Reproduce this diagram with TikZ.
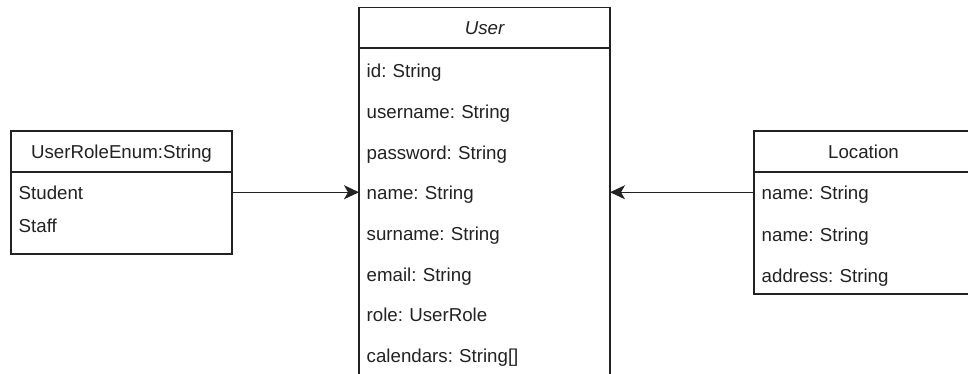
\documentclass[tikz,border=0pt]{standalone}
\usepackage{fontspec}
\setmainfont{Liberation Sans}
\usetikzlibrary{arrows.meta}
\definecolor{ink}{HTML}{222222}
\frenchspacing
\begin{document}
\begin{tikzpicture}[x=1pt,y=-1pt,
  font=\fontsize{18.7}{22}\selectfont,
  classbox/.style={draw=ink, line width=1.2pt, fill=white, inner sep=0pt, outer sep=0pt, anchor=north west},
  attr/.style={anchor=west, inner xsep=7.5pt, inner ysep=0pt, text height=13.5pt, text depth=0pt,
               text=ink, align=left, text width=#1},
  title/.style={anchor=base, inner sep=0pt, text=ink},
  divider/.style={draw=ink, line width=1.2pt},
  link/.style={draw=ink, line width=1.4pt, -{Stealth[length=15pt,width=14pt,inset=4pt]}}]
\useasboundingbox (0,0) rectangle (968,374);

% class User (continues past the lower edge)
\node[classbox, minimum width=251pt, minimum height=377.5pt] (user) at (359,7.5) {};
\draw[divider] ([yshift=-40.5pt]user.north west) -- ([yshift=-40.5pt]user.north east);
\node[title] (usertitle) at (484.5,35) {\itshape User};
\node[attr=236pt] (uid)   at (359,71.25)  {id: String};
\node[attr=236pt] (uuser) at (359,111.85) {username: String};
\node[attr=236pt] (upass) at (359,152.45) {password: String};
\node[attr=236pt] (uname) at (359,193.05) {name: String};
\node[attr=236pt] (usur)  at (359,233.65) {surname: String};
\node[attr=236pt] (umail) at (359,274.25) {email: String};
\node[attr=236pt] (urole) at (359,314.85) {role: UserRole};
\node[attr=236pt] (ucal)  at (359,355.45) {calendars: String[]};

% enumeration UserRoleEnum
\node[classbox, minimum width=221pt, minimum height=123pt] (enum) at (11,131) {};
\draw[divider] ([yshift=-41pt]enum.north west) -- ([yshift=-41pt]enum.north east);
\node[title] (enumtitle) at (121.5,158.5) {UserRoleEnum:String};
\node[attr=206pt] (student) at (11,193.25) {Student};
\node[attr=206pt] (staff)   at (11,225.75) {Staff};

% class Location (continues past the right edge)
\node[classbox, minimum width=219pt, minimum height=163pt] (loc) at (754,131) {};
\draw[divider] ([yshift=-41pt]loc.north west) -- ([yshift=-41pt]loc.north east);
\node[title] (loctitle) at (863.5,158.3) {Location};
\node[attr=204pt] (lname)  at (754,193.25) {name: String};
\node[attr=204pt] (lname2) at (754,234.25) {name: String};
\node[attr=204pt] (laddr)  at (754,275.75) {address: String};

% associations
\draw[link] ([yshift=1pt]student.east) -- ([yshift=1pt]student.east -| user.west);
\draw[link] ([yshift=1pt]lname.west) -- ([yshift=1pt]lname.west -| user.east);
\end{tikzpicture}
\end{document}
